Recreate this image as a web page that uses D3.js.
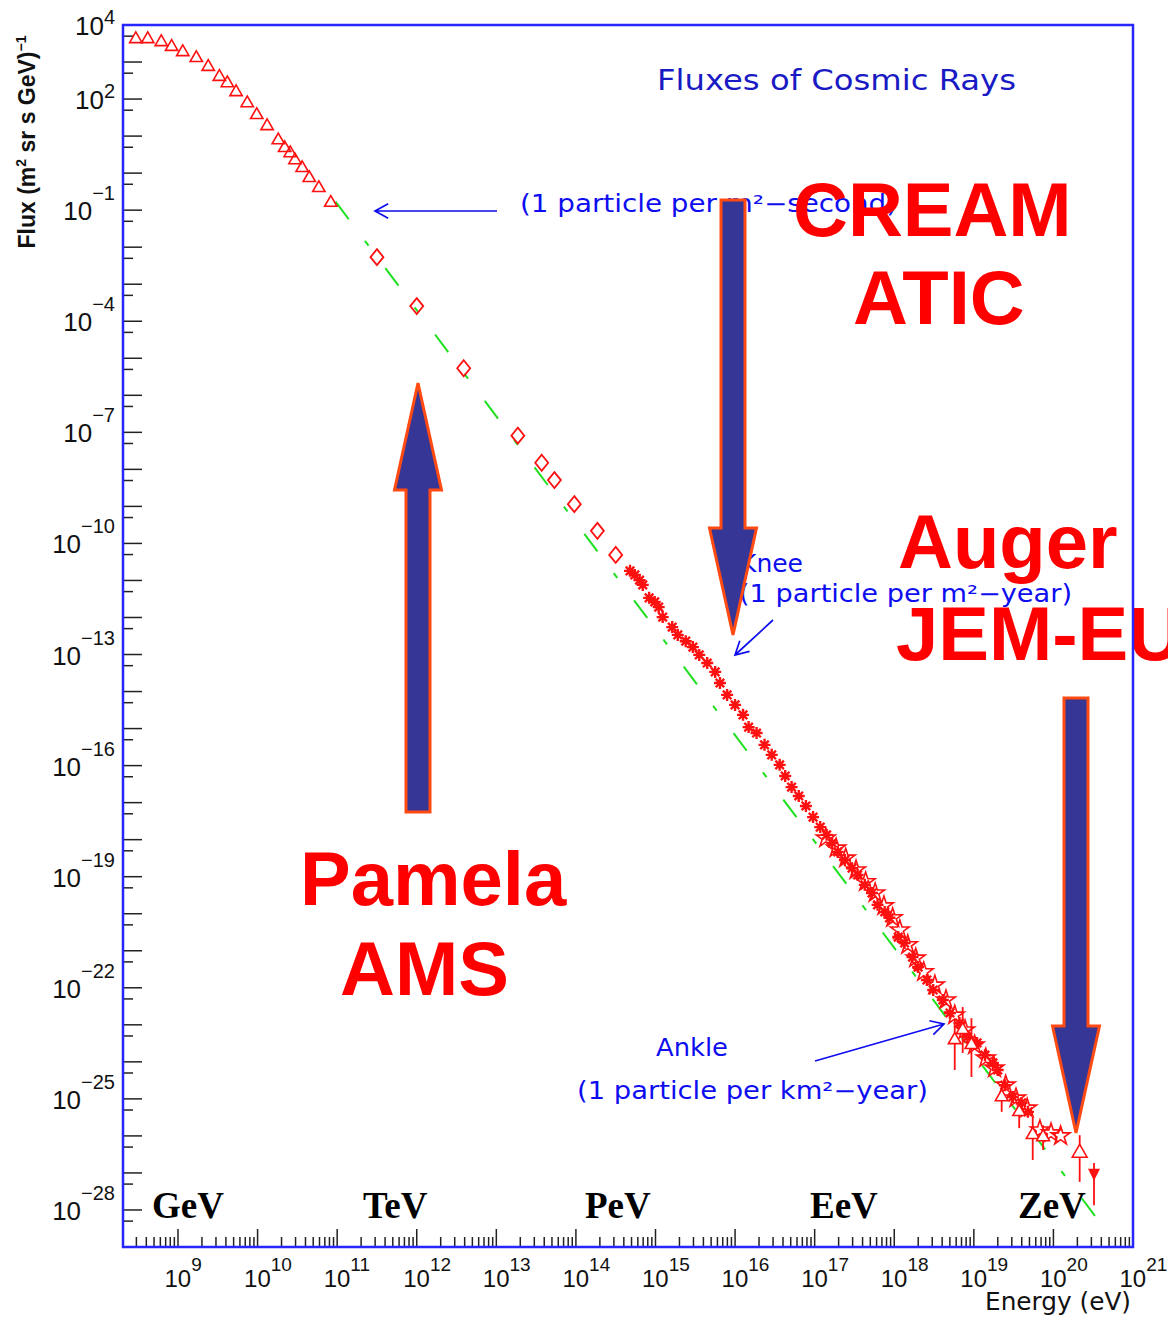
<!DOCTYPE html>
<html>
<head>
<meta charset="utf-8">
<script src="https://cdn.jsdelivr.net/npm/d3@7"></script>
<style>
  body { margin: 0; background: #fff; }
  svg { display: block; }
</style>
</head>
<body>
<div id="chart"></div>
<script>
// values are log10(E / eV) and log10(flux)
const lowTriE = [8.47, 8.62, 8.79, 8.92, 9.06, 9.23, 9.38, 9.52, 9.62, 9.73, 9.87, 9.99, 10.12, 10.26, 10.34, 10.41, 10.47, 10.56, 10.65, 10.77, 10.92];
const lowTriF = [3.62, 3.62, 3.54, 3.41, 3.27, 3.11, 2.87, 2.60, 2.43, 2.19, 1.89, 1.57, 1.27, 0.89, 0.68, 0.54, 0.35, 0.14, -0.13, -0.40, -0.80];

const diamondE = [11.50, 12.00, 12.59, 13.27, 13.57, 13.73, 13.98, 14.27, 14.50];
const diamondF = [-2.27, -3.59, -5.27, -7.09, -7.82, -8.29, -8.94, -9.66, -10.31];

const starE = [14.68, 14.74, 14.80, 14.84, 14.92, 14.99, 15.04, 15.09, 15.21, 15.28, 15.38, 15.47, 15.55, 15.65, 15.75, 15.81, 15.90, 16.00, 16.10, 16.17, 16.27, 16.37, 16.46,
  16.56, 16.63, 16.71, 16.80, 16.89, 16.98, 17.07, 17.15, 17.22, 17.29, 17.38, 17.47, 17.54, 17.63, 17.72, 17.79, 17.88, 17.94,
  18.05, 18.13, 18.23, 18.30, 18.41, 18.49, 18.61, 18.70, 18.82, 18.92, 19.04, 19.14, 19.24, 19.30, 19.39, 19.49, 19.60, 19.68];
const starF = [-10.74, -10.85, -10.99, -11.12, -11.47, -11.58, -11.72, -11.99, -12.26, -12.47, -12.64, -12.80, -13.01, -13.23, -13.47, -13.77, -14.09, -14.36, -14.63, -14.96, -15.12, -15.44, -15.71,
  -15.98, -16.28, -16.58, -16.82, -17.09, -17.39, -17.66, -17.87, -18.09, -18.33, -18.55, -18.77, -18.95, -19.22, -19.44, -19.76, -19.95, -20.11,
  -20.63, -20.79, -21.17, -21.44, -21.79, -22.06, -22.33, -22.68, -22.95, -23.33, -23.49, -23.82, -24.03, -24.22, -24.63, -24.95, -25.11, -25.35];

const openStarE = [17.14, 17.27, 17.39, 17.52, 17.64, 17.76, 17.87, 17.98, 18.07, 18.17, 18.27, 18.37, 18.51, 18.65, 18.76, 18.89, 19.01, 19.15, 19.26, 19.40, 19.53, 19.67, 19.83, 19.97, 20.09];
const openStarF = [-17.96, -18.23, -18.50, -18.82, -19.14, -19.44, -19.79, -20.11, -20.44, -20.84, -21.20, -21.57, -21.93, -22.33, -22.74, -23.14, -23.55, -23.90, -24.17, -24.63, -24.98, -25.25, -25.84, -25.92, -26.00];

const hiTriE = [18.76, 18.86, 18.97, 19.35, 19.57, 19.74, 19.87, 20.33];
const hiTriF = [-23.41, -23.14, -23.54, -24.95, -25.35, -25.97, -26.03, -26.46];
const hiTriErrUp = [-22.87, -22.52, -22.82, -24.63, -25.03, -25.49, -25.71, -25.98];
const hiTriErrDown = [-24.22, -23.76, -24.41, -25.35, -25.79, -26.65, -26.38, -27.24];

const limitE = [20.51];
const limitTop = [-26.73];
const limitBottom = [-27.87];

const fitE = [10.98, 20.55];
const fitF = [-0.77, -28.24];

const yLabelExps = [4, 2, -1, -4, -7, -10, -13, -16, -19, -22, -25, -28];
const xLabelExps = [9, 10, 11, 12, 13, 14, 15, 16, 17, 18, 19, 20, 21];
const unitLabels = ["GeV", "TeV", "PeV", "EeV", "ZeV"];

const W = 1168, H = 1319;
const pLeft = 123, pRight = 1133, pTop = 25, pBottom = 1247;

const x = d3.scaleLog().domain([10 ** 8.309, 1e21]).range([pLeft, pRight]);
const y = d3.scaleLog().domain([1e-29, 1e4]).range([pBottom, pTop]);
const px = (e) => x(10 ** e);
const py = (f) => y(10 ** f);

const svg = d3.select("#chart").append("svg").attr("width", W).attr("height", H);

// axis ticks
const ticks = svg.append("g").attr("stroke", "#222").attr("stroke-width", 1.5);
d3.range(-29, 5).forEach((k) => {
  ticks.append("line").attr("x1", pLeft).attr("x2", pLeft + 19).attr("y1", y(10 ** k)).attr("y2", y(10 ** k));
  if (k < 4) {
    ticks.append("line").attr("x1", pLeft).attr("x2", pLeft + 10).attr("y1", y(5 * 10 ** k)).attr("y2", y(5 * 10 ** k));
  }
});
const [xMin, xMax] = x.domain();
d3.range(8, 22).forEach((n) => {
  d3.range(1, 10).forEach((m) => {
    const v = m * 10 ** n;
    if (v < xMin || v > xMax * 1.0001) return;
    const len = m === 1 ? 18 : 10;
    ticks.append("line").attr("x1", x(v)).attr("x2", x(v)).attr("y1", pBottom).attr("y2", pBottom - len);
  });
});

// tick labels
const labels = svg.append("g").attr("font-family", "Liberation Sans, Arial, sans-serif").attr("fill", "#111");
yLabelExps.forEach((k) => {
  const t = labels.append("text").attr("x", 115).attr("y", y(10 ** k) + 10).attr("text-anchor", "end");
  t.append("tspan").attr("font-size", 26).text("10");
  t.append("tspan").attr("font-size", 20).attr("dy", k > 0 ? -11 : -20).text(String(k).replace("-", "\u2212"));
});
xLabelExps.forEach((n) => {
  const t = labels.append("text").attr("x", x(10 ** n) - 13.5).attr("y", 1287);
  t.append("tspan").attr("font-size", 24).text("10");
  t.append("tspan").attr("font-size", 19).attr("dy", -16).text(n);
});

// axis titles
const yt = svg.append("text")
  .attr("transform", "translate(35,142) rotate(-90)")
  .attr("text-anchor", "middle")
  .attr("font-family", "Liberation Sans, Arial, sans-serif")
  .attr("font-weight", "bold").attr("font-size", 23).attr("fill", "#111");
yt.append("tspan").text("Flux (m");
yt.append("tspan").attr("font-size", 14).attr("dy", -9).text("2");
yt.append("tspan").attr("dy", 9).text(" sr s GeV)");
yt.append("tspan").attr("font-size", 14).attr("dy", -9).text("\u22121");

svg.append("text").attr("x", 1131).attr("y", 1310).attr("text-anchor", "end")
  .attr("font-family", "DejaVu Sans, sans-serif").attr("font-size", 24).attr("fill", "#111")
  .attr("textLength", 146).attr("lengthAdjust", "spacingAndGlyphs")
  .text("Energy (eV)");

// unit labels
const unitX = [152, 363, 585, 810, 1018];
svg.append("g").selectAll("text").data(unitLabels).join("text")
  .attr("x", (d, i) => unitX[i]).attr("y", 1218)
  .attr("font-family", "Liberation Serif, Times New Roman, serif")
  .attr("font-weight", "bold").attr("font-size", 37).attr("fill", "#000")
  .text((d) => d);

// fitted power law
svg.append("path")
  .attr("d", d3.line().x((d, i) => px(fitE[i])).y((d, i) => py(fitF[i]))(fitE))
  .attr("fill", "none").attr("stroke", "#1ee01e").attr("stroke-width", 2)
  .attr("stroke-dasharray", "22,27,6,28");

const red = "#ff1010";
const data = svg.append("g");

// low energy triangles
data.selectAll(".lt").data(lowTriE).join("path")
  .attr("transform", (d, i) => `translate(${px(d)},${py(lowTriF[i])})`)
  .attr("d", d3.symbol(d3.symbolTriangle, 66))
  .attr("fill", "none").attr("stroke", red).attr("stroke-width", 1.6);

// diamonds
data.selectAll(".dm").data(diamondE).join("path")
  .attr("transform", (d, i) => `translate(${px(d)},${py(diamondF[i])})`)
  .attr("d", "M0,-8L6.5,0L0,8L-6.5,0Z")
  .attr("fill", "none").attr("stroke", red).attr("stroke-width", 1.8);

// asterisk points
const ast = (r) => {
  const a = r * Math.SQRT1_2;
  return `M${-r},0L${r},0M0,${-r}L0,${r}M${-a},${-a}L${a},${a}M${-a},${a}L${a},${-a}`;
};
data.selectAll(".st").data(starE).join("path")
  .attr("transform", (d, i) => `translate(${px(d)},${py(starF[i])})`)
  .attr("d", ast(6))
  .attr("fill", "none").attr("stroke", red).attr("stroke-width", 2.4);

// open stars
data.selectAll(".os").data(openStarE).join("path")
  .attr("transform", (d, i) => `translate(${px(d)},${py(openStarF[i])})`)
  .attr("d", d3.symbol(d3.symbolStar, 110))
  .attr("fill", "none").attr("stroke", red).attr("stroke-width", 1.6);

// high energy triangles with error bars
data.selectAll(".eb").data(hiTriE).join("line")
  .attr("x1", (d) => px(d)).attr("x2", (d) => px(d))
  .attr("y1", (d, i) => py(hiTriErrUp[i])).attr("y2", (d, i) => py(hiTriErrDown[i]))
  .attr("stroke", red).attr("stroke-width", 1.8);
data.selectAll(".ht").data(hiTriE).join("path")
  .attr("transform", (d, i) => `translate(${px(d)},${py(hiTriF[i])})`)
  .attr("d", (d, i) => d3.symbol(d3.symbolTriangle, i === hiTriE.length - 1 ? 95 : 70)())
  .attr("fill", "#fff").attr("stroke", red).attr("stroke-width", 1.6);

// upper limit
limitE.forEach((e, i) => {
  const lx = px(e), y0 = py(limitTop[i]), y1 = py(limitBottom[i]);
  data.append("line").attr("x1", lx).attr("x2", lx).attr("y1", y0).attr("y2", y1)
    .attr("stroke", red).attr("stroke-width", 1.8);
  const ah = y0 + (y1 - y0) * 0.42;
  data.append("path").attr("d", `M${lx - 6},${ah - 12}L${lx + 6},${ah - 12}L${lx},${ah}Z`).attr("fill", red);
});

// blue annotations
const blue = "#0d0df0";
const ann = svg.append("g").attr("font-family", "DejaVu Sans, sans-serif").attr("fill", blue).attr("font-size", 24);
svg.append("text").attr("x", 657).attr("y", 90)
  .attr("font-family", "DejaVu Sans, sans-serif").attr("font-size", 29).attr("fill", "#1a1ac4")
  .attr("textLength", 359).attr("lengthAdjust", "spacingAndGlyphs")
  .text("Fluxes of Cosmic Rays");
ann.append("text").attr("x", 520).attr("y", 212).attr("textLength", 377).attr("lengthAdjust", "spacingAndGlyphs")
  .text("(1 particle per m\u00b2\u2212second)");
ann.append("text").attr("x", 740).attr("y", 572).attr("textLength", 63).attr("lengthAdjust", "spacingAndGlyphs").text("Knee");
ann.append("text").attr("x", 739).attr("y", 602).attr("textLength", 333).attr("lengthAdjust", "spacingAndGlyphs")
  .text("(1 particle per m\u00b2\u2212year)");
ann.append("text").attr("x", 656).attr("y", 1056).attr("textLength", 72).attr("lengthAdjust", "spacingAndGlyphs").text("Ankle");
ann.append("text").attr("x", 577).attr("y", 1099).attr("textLength", 351).attr("lengthAdjust", "spacingAndGlyphs")
  .text("(1 particle per km\u00b2\u2212year)");

const thinArrow = (x1, y1, x2, y2) => {
  const a = Math.atan2(y2 - y1, x2 - x1), L = 15, s = 0.5;
  const w1 = [x2 - L * Math.cos(a - s), y2 - L * Math.sin(a - s)];
  const w2 = [x2 - L * Math.cos(a + s), y2 - L * Math.sin(a + s)];
  svg.append("path")
    .attr("d", `M${x1},${y1}L${x2},${y2}M${w1}L${x2},${y2}L${w2}`)
    .attr("fill", "none").attr("stroke", blue).attr("stroke-width", 1.7);
};
thinArrow(497, 211, 375, 211);
thinArrow(773, 620, 735, 655);
thinArrow(815, 1061, 944, 1024);

// big block arrows
const bigArrow = (cx, tipY, endY) => {
  const d = Math.sign(endY - tipY), hb = tipY + d * 107, sw = 12, hw = 23.5;
  const pts = [[cx, tipY], [cx + hw, hb], [cx + sw, hb], [cx + sw, endY], [cx - sw, endY], [cx - sw, hb], [cx - hw, hb]];
  svg.append("path").attr("d", "M" + pts.join("L") + "Z")
    .attr("fill", "#363696").attr("stroke", "#ff4a12").attr("stroke-width", 3).attr("stroke-linejoin", "miter");
};
bigArrow(418, 383, 812);
bigArrow(733, 635, 200);
bigArrow(1076, 1133, 698);

// big red labels
const big = svg.append("g").attr("font-family", "Liberation Sans, Arial, sans-serif")
  .attr("font-weight", "bold").attr("font-size", 76).attr("fill", "#ff0000");
[["CREAM", 793, 236], ["ATIC", 853, 324], ["Auger", 898, 568], ["JEM-EUSO", 896, 660], ["Pamela", 300, 905], ["AMS", 340, 995]]
  .forEach(([t, tx, ty]) => big.append("text").attr("x", tx).attr("y", ty).text(t));

// frame
svg.append("rect").attr("x", pLeft).attr("y", pTop).attr("width", pRight - pLeft).attr("height", pBottom - pTop)
  .attr("fill", "none").attr("stroke", "#2626ff").attr("stroke-width", 2.5);
</script>
</body>
</html>
